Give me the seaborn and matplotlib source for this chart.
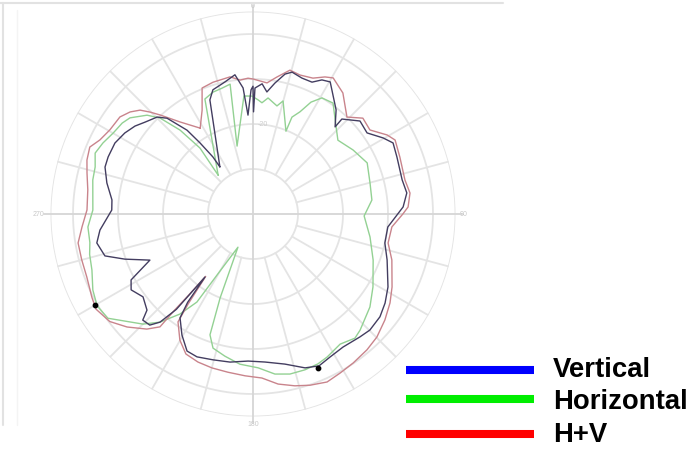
import numpy as np
import pandas as pd
import matplotlib
matplotlib.use("Agg")
import matplotlib.pyplot as plt
from matplotlib.lines import Line2D
import seaborn as sns

sns.set_theme(style="white")
plt.rcParams["font.family"] = ["Liberation Sans", "DejaVu Sans"]

# ---- data: angle (deg, clockwise from top) and level (radial units, outer ring = 45)
vert_deg = [-35.1, -20.7, -17.9, -12.0, -7.4, -4.5, -2.9, -0.9, 0.0, 0.3, 0.9, 4.0, 6.5, 9.5,
            12.9, 15.4, 19.8, 24.1, 27.2, 30.3, 38.6, 43.3, 43.1, 49.0, 54.6, 59.7, 63.1, 68.4,
            77.1, 82.2, 87.3, 95.5, 102.4, 108.9, 118.4, 124.0, 129.0, 134.8, 139.0, 145.9,
            151.7, 156.5, 161.3, 168.0, 175.4, 181.9, 188.8, 195.3, 201.4, 205.7, 210.4, 215.1,
            216.5, 217.3, 218.2, 218.8, 220.7, 222.9, 226.1, 227.8, 233.0, 238.1, 241.6, 245.9,
            250.6, 254.2, 259.5, 264.0, 271.6, 275.7, 282.0, 287.6, 291.5, 297.2, 302.3, 306.7,
            310.4, 315.3, 318.1, 321.8, 323.3, 324.9, 324.9]
vert_r = [12.8, 27.1, 29.0, 30.0, 31.2, 28.1, 22.0, 27.6, 28.4, 22.7, 28.0, 29.0, 27.3, 29.5,
          31.9, 32.7, 32.1, 32.1, 33.5, 34.0, 29.6, 26.6, 28.9, 31.5, 31.1, 33.5, 34.9, 34.4,
          34.0, 34.5, 33.4, 30.1, 30.0, 31.5, 34.1, 35.4, 36.3, 36.6, 36.2, 35.7,
          36.1, 36.8, 36.1, 34.1, 33.0, 32.7, 33.3, 33.6, 34.1, 33.8, 31.2, 28.2,
          24.4, 17.6, 22.5, 27.2, 31.7, 33.7, 34.0, 31.8, 30.6, 31.9, 30.8, 25.1,
          30.2, 34.2, 35.3, 34.2, 31.4, 31.5, 33.2, 34.5, 34.6, 34.5, 33.7, 32.7,
          31.5, 30.3, 28.6, 23.7, 19.7, 15.5, 12.8]

horiz_deg = [-41.9, -22.7, -18.2, -13.8, -10.0, -13.2, -4.4, -0.5, 2.5, 4.6, 7.4, 12.5, 14.9,
             21.7, 21.9, 24.7, 27.4, 30.7, 35.8, 43.0, 49.0, 57.4, 65.9, 75.2, 83.3, 91.0,
             101.1, 111.0, 121.3, 128.5, 137.3, 140.6, 146.2, 152.6, 156.6, 161.6, 167.0,
             172.2, 178.1, 185.0, 191.2, 196.6, 199.6, 201.4, 204.4, 210.5, 212.5, 216.1,
             220.7, 225.0, 230.1, 234.3, 239.5, 244.6, 250.8, 256.1, 260.1, 265.5, 271.4,
             282.0, 286.6, 291.1, 295.3, 300.1, 304.8, 308.0, 313.0, 315.9, 319.0, 321.2, 318.1]
horiz_r = [11.6, 27.7, 28.5, 28.8, 29.3, 15.5, 26.3, 26.2, 25.4, 24.8, 26.0, 24.6, 26.0,
           19.8, 23.2, 25.0, 28.0, 30.0, 30.4, 27.0, 25.0, 26.4, 27.8, 26.9, 26.6, 24.7,
           26.5, 28.6, 31.2, 33.2, 35.1, 35.7, 34.8, 35.8, 36.3, 36.5, 36.5,
           35.9, 34.2, 33.5, 32.2, 31.1, 28.5, 20.0, 8.1, 15.7, 23.2, 27.5,
           31.7, 34.6, 37.1, 39.7, 40.2, 39.4, 37.9, 37.4, 36.8, 36.8, 35.6,
           36.4, 36.6, 37.6, 36.9, 35.9, 35.4, 34.7, 32.2, 29.7, 24.7, 18.8, 11.6]

hv_deg = [-31.6, -26.1, -22.0, -16.9, -9.5, -5.5, -2.1, 0.0, 6.1, 9.9, 14.4, 18.7, 23.8, 27.7,
          30.5, 36.6, 44.1, 48.9, 54.3, 59.5, 62.5, 68.8, 77.4, 82.4, 87.4, 90.0, 95.3, 102.1,
          108.3, 117.7, 123.0, 128.8, 134.8, 140.0, 146.1, 151.3, 156.2, 161.6, 166.3, 171.6,
          176.9, 182.8, 189.0, 194.9, 200.4, 205.6, 210.1, 214.8, 215.8, 217.2, 218.4, 219.2,
          219.5, 222.7, 228.1, 233.1, 238.8, 242.7, 249.2, 255.1, 260.6, 265.7, 271.4, 278.3,
          283.9, 288.0, 292.3, 295.8, 300.4, 306.1, 309.7, 312.6, 314.7, 316.8, 321.6, 328.4]
hv_r = [22.4, 25.7, 30.2, 30.6, 30.9, 29.9, 30.2, 30.0, 29.3, 30.9, 33.0, 32.6, 33.0, 34.4,
        35.1, 33.5, 30.0, 32.4, 32.0, 34.6, 35.6, 35.0, 34.6, 35.2, 34.5, 33.3, 31.0, 30.7,
        32.5, 34.9, 36.3, 37.6, 38.8, 39.4, 39.9, 40.3, 40.8, 40.1, 39.3, 38.2,
        36.5, 36.0, 35.6, 35.4, 35.1, 34.5, 32.4, 29.2, 24.6, 17.4, 23.0, 27.5,
        32.5, 34.8, 37.6, 39.8, 40.8, 40.3, 39.5, 39.4, 39.4, 38.1, 36.9, 37.1,
        38.0, 38.8, 39.2, 37.8, 36.9, 36.6, 35.5, 34.1, 32.2, 30.2, 26.1, 22.4]

marker_deg = [240.1, 157.1]
marker_r = [40.5, 37.2]

ring_levels = [10, 20, 30, 40, 45]
spoke_step = 15
axis_labels = ["0", "90", "180", "270"]

legend_names = ["Vertical", "Horizontal", "H+V"]
legend_colors = ["#0000ff", "#00ee00", "#ff0000"]
trace_colors = {"Vertical": "#433d60", "Horizontal": "#93d193", "H+V": "#c9848c"}

# ---- figure
W, H = 692, 450
fig = plt.figure(figsize=(W / 100, H / 100), dpi=100)
cx, cy, R = 253, 214, 202.5
ax = fig.add_axes([(cx - R) / W, (H - cy - R) / H, 2 * R / W, 2 * R / H], projection="polar")
ax.set_theta_zero_location("N")
ax.set_theta_direction(-1)
ax.set_rlim(0, 45)
ax.grid(False)
ax.set_xticks([])
ax.set_yticks([])
ax.spines["polar"].set_visible(False)
ax.patch.set_alpha(0)

gcol = "#e4e4e4"
full = np.linspace(0, 2 * np.pi, 721)
for lv in ring_levels:
    ax.plot(full, np.full_like(full, lv), color=gcol, lw=1.3, zorder=1)
for a in range(0, 360, spoke_step):
    if a % 90 == 0:
        continue
    ax.plot([np.deg2rad(a)] * 2, [10, 45], color=gcol, lw=1.3, zorder=1)
for a in (0, 90, 180, 270):
    ax.plot([np.deg2rad(a)] * 2, [0, 46.5], color="#d6d6d6", lw=1.3, zorder=1, clip_on=False)

# faint axis labels
lab_pos = {"0": (0, 46.0), "90": (90, 46.7), "180": (180, 46.8), "270": (270, 47.6)}
for lab in axis_labels:
    a, rr = lab_pos[lab]
    ax.text(np.deg2rad(a), rr, lab, fontsize=5, color="#c8c8c8", ha="center", va="center",
            clip_on=False)
ax.text(np.deg2rad(6), 20, "-20", fontsize=5, color="#cccccc", ha="center", va="center")

series = [("Vertical", vert_deg, vert_r), ("Horizontal", horiz_deg, horiz_r), ("H+V", hv_deg, hv_r)]
for name, d, r in [series[1], series[2], series[0]]:
    df = pd.DataFrame({"theta": np.deg2rad(d), "r": r})
    sns.lineplot(data=df, x="theta", y="r", sort=False, estimator=None, ax=ax,
                 color=trace_colors[name], linewidth=1.0, zorder=3)
ax.scatter(np.deg2rad(marker_deg), marker_r, s=10, color="black", zorder=5)
ax.set_xlabel("")
ax.set_ylabel("")
ax.set_rlim(0, 45)

# frame of the embedded picture
fig.add_artist(Line2D([0, 503 / W], [1 - 3 / H, 1 - 3 / H], color="#e2e2e2", lw=1.5))
fig.add_artist(Line2D([3 / W, 3 / W], [1 - 3 / H, 1 - 425 / H], color="#e2e2e2", lw=1.5))
fig.add_artist(Line2D([17 / W, 17 / W], [1 - 10 / H, 1 - 425 / H], color="#f4f4f4", lw=1.0))

# legend
line_y = [370, 399, 434]
text_y = [377, 409, 442]
for name, col, ly, ty in zip(legend_names, legend_colors, line_y, text_y):
    fig.add_artist(Line2D([406 / W, 534 / W], [1 - ly / H, 1 - ly / H], color=col, lw=5.8,
                          solid_capstyle="butt"))
    fig.text(553 / W, 1 - ty / H, name, fontsize=19.8, fontweight="bold", color="black",
             ha="left", va="baseline")

fig.savefig("out.png", dpi=100)
